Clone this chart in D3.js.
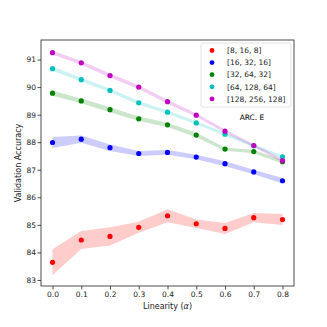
<!DOCTYPE html>
<html>
<head>
<meta charset="utf-8">
<script src="https://cdnjs.cloudflare.com/ajax/libs/d3/7.8.5/d3.min.js"></script>
<style>
  body { margin: 0; background: #fff; }
  text { font-family: "DejaVu Sans", sans-serif; }
</style>
</head>
<body>
<div id="viz"></div>
<script>
const alphas = [0.0, 0.1, 0.2, 0.3, 0.4, 0.5, 0.6, 0.7, 0.8];
const seriesNames = ['[8, 16, 8]', '[16, 32, 16]', '[32, 64, 32]', '[64, 128, 64]', '[128, 256, 128]'];
const seriesColors = ['#ff0000', '#0000ff', '#008000', '#00bfbf', '#bf00bf'];

const acc8 = [83.64, 84.45, 84.58, 84.91, 85.33, 85.04, 84.87, 85.26, 85.19];
const acc16 = [87.99, 88.11, 87.80, 87.59, 87.63, 87.46, 87.22, 86.92, 86.60];
const acc32 = [89.78, 89.50, 89.18, 88.85, 88.63, 88.26, 87.75, 87.66, 87.29];
const acc64 = [90.67, 90.27, 89.88, 89.43, 89.09, 88.70, 88.29, 87.87, 87.47];
const acc128 = [91.25, 90.88, 90.42, 90.00, 89.47, 88.98, 88.40, 87.88, 87.33];

const err8 = [0.47, 0.33, 0.33, 0.20, 0.24, 0.15, 0.20, 0.17, 0.20];
const err16 = [0.20, 0.13, 0.12, 0.09, 0.09, 0.08, 0.09, 0.08, 0.10];
const err32 = [0.09, 0.09, 0.09, 0.08, 0.08, 0.08, 0.06, 0.06, 0.07];
const err64 = [0.08, 0.07, 0.07, 0.07, 0.06, 0.06, 0.06, 0.05, 0.06];
const err128 = [0.07, 0.07, 0.07, 0.07, 0.07, 0.06, 0.06, 0.05, 0.06];

const yTicks = [83, 84, 85, 86, 87, 88, 89, 90, 91];

const accs = [acc8, acc16, acc32, acc64, acc128];
const errs = [err8, err16, err32, err64, err128];
const series = seriesNames.map((name, i) => ({
  name, color: seriesColors[i],
  points: alphas.map((a, j) => ({ a, v: accs[i][j], e: errs[i][j] }))
}));

const width = 327, height = 327;
const margin = { left: 41, right: 33, top: 40, bottom: 41 };

const svg = d3.select('#viz').append('svg')
  .attr('width', width).attr('height', height);

const x = d3.scaleLinear().domain([-0.04, 0.84])
  .range([margin.left, width - margin.right]);
const y = d3.scaleLinear().domain([82.78, 91.71])
  .range([height - margin.bottom, margin.top]);

// bands
const area = d3.area()
  .x(d => x(d.a))
  .y0(d => y(d.v - d.e))
  .y1(d => y(d.v + d.e));

svg.append('g').selectAll('path')
  .data(series)
  .join('path')
  .attr('d', d => area(d.points))
  .attr('fill', d => d.color)
  .attr('fill-opacity', 0.2);

// points
svg.append('g').selectAll('g')
  .data(series)
  .join('g')
  .attr('fill', d => d.color)
  .selectAll('circle')
  .data(d => d.points)
  .join('circle')
  .attr('cx', d => x(d.a))
  .attr('cy', d => y(d.v))
  .attr('r', 2.6);

// axes
const xAxis = d3.axisBottom(x).tickValues(alphas).tickFormat(d3.format('.1f')).tickSize(3.5).tickSizeOuter(0);
const yAxis = d3.axisLeft(y).tickValues(yTicks).tickFormat(d3.format('d')).tickSize(3.5).tickSizeOuter(0);

const gx = svg.append('g')
  .attr('transform', `translate(0,${height - margin.bottom})`)
  .call(xAxis);
const gy = svg.append('g')
  .attr('transform', `translate(${margin.left},0)`)
  .call(yAxis);
[gx, gy].forEach(g => {
  g.select('.domain').remove();
  g.selectAll('line').attr('stroke', '#222').attr('stroke-width', 0.8);
  g.selectAll('text').attr('font-size', 7.5).attr('fill', '#222');
});
gy.selectAll('text').attr('x', -5);
gx.selectAll('text').attr('y', 5.5);

// frame
svg.append('rect')
  .attr('x', margin.left).attr('y', margin.top)
  .attr('width', width - margin.left - margin.right)
  .attr('height', height - margin.top - margin.bottom)
  .attr('fill', 'none').attr('stroke', '#222').attr('stroke-width', 0.8);

// labels
const xl = svg.append('text')
  .attr('x', (margin.left + width - margin.right) / 2)
  .attr('y', 309)
  .attr('text-anchor', 'middle')
  .attr('font-size', 8)
  .attr('fill', '#222');
xl.append('tspan').text('Linearity (');
xl.append('tspan').attr('font-style', 'italic').text('α');
xl.append('tspan').text(')');

svg.append('text')
  .attr('transform', `translate(21,${(margin.top + height - margin.bottom) / 2}) rotate(-90)`)
  .attr('text-anchor', 'middle')
  .attr('font-size', 8)
  .attr('fill', '#222')
  .text('Validation Accuracy');

svg.append('text')
  .attr('x', 252).attr('y', 120)
  .attr('text-anchor', 'middle')
  .attr('font-size', 7.5)
  .attr('fill', '#000')
  .text('ARC. E');

// legend
const legend = svg.append('g').attr('transform', 'translate(201,43)');
legend.append('rect')
  .attr('width', 90).attr('height', 64).attr('rx', 2)
  .attr('fill', '#fff').attr('fill-opacity', 0.8)
  .attr('stroke', '#ddd').attr('stroke-width', 0.8);
const items = legend.selectAll('g.item')
  .data(series)
  .join('g')
  .attr('class', 'item')
  .attr('transform', (d, i) => `translate(0,${7.5 + i * 12.1})`);
items.append('circle')
  .attr('cx', 11).attr('cy', 0).attr('r', 2.4)
  .attr('fill', d => d.color);
items.append('text')
  .attr('x', 26).attr('y', 2.7)
  .attr('font-size', 7.5)
  .attr('fill', '#222')
  .text(d => d.name);
</script>
</body>
</html>
